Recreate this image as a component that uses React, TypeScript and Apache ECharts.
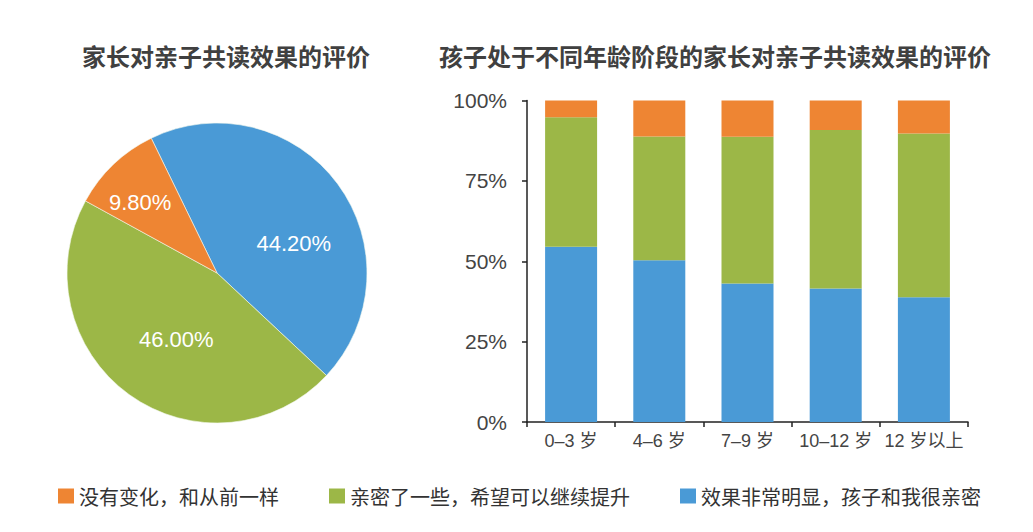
import React, { useEffect, useRef } from "react";
import * as echarts from "echarts";

const seriesNames = ["效果非常明显，孩子和我很亲密", "亲密了一些，希望可以继续提升", "没有变化，和从前一样"];
const legendOrder = ["没有变化，和从前一样", "亲密了一些，希望可以继续提升", "效果非常明显，孩子和我很亲密"];
const pieValues = [44.2, 46.0, 9.8];
const ageGroups = ["0–3 岁", "4–6 岁", "7–9 岁", "10–12 岁", "12 岁以上"];
const veryEffective = [54.5, 50.3, 43.1, 41.5, 38.8];
const someCloser = [40.3, 38.5, 45.6, 49.3, 50.9];
const noChange = [5.2, 11.2, 11.3, 9.2, 10.3];
const yTicks = [0, 25, 50, 75, 100];

const colors = ["#4a9ad6", "#9cb747", "#ee8533"];
const pieLabelShift = [
  [14, 17],
  [5, 3],
  [-23, -14],
];

export default function App() {
  const ref = useRef<HTMLDivElement>(null);
  useEffect(() => {
    if (!ref.current) return;
    const chart = echarts.init(ref.current, null, { renderer: "svg" });
    const numFont = "'Liberation Sans', Arial, 'Noto Sans CJK SC', sans-serif";
    const cjkFont = "'Noto Sans CJK SC', 'Liberation Sans', sans-serif";
    chart.setOption({
      animation: false,
      backgroundColor: "#ffffff",
      title: [
        {
          text: "家长对亲子共读效果的评价",
          left: 221,
          top: 38,
          textAlign: "center",
          textStyle: { fontFamily: cjkFont, fontSize: 24, fontWeight: "bold", color: "#404040" },
        },
        {
          text: "孩子处于不同年龄阶段的家长对亲子共读效果的评价",
          left: 710,
          top: 38,
          textAlign: "center",
          textStyle: { fontFamily: cjkFont, fontSize: 24, fontWeight: "bold", color: "#404040" },
        },
      ],
      legend: {
        data: legendOrder,
        left: 53,
        top: 481,
        icon: "rect",
        itemWidth: 16,
        itemHeight: 15,
        itemGap: 50,
        textStyle: { fontFamily: cjkFont, fontSize: 20, color: "#333" },
      },
      grid: { left: 527, right: 65, top: 100.5, bottom: 110, containLabel: false },
      xAxis: {
        type: "category",
        data: ageGroups,
        axisLine: { lineStyle: { color: "#222", width: 1.5 } },
        axisTick: { show: true, length: 5, lineStyle: { color: "#222", width: 1.5 } },
        axisLabel: { interval: 0, fontFamily: numFont, fontSize: 18, color: "#444", margin: 10 },
      },
      yAxis: {
        type: "value",
        min: yTicks[0],
        max: yTicks[yTicks.length - 1],
        interval: 25,
        splitLine: { show: false },
        axisLine: { show: true, lineStyle: { color: "#222", width: 1.5 } },
        axisTick: { show: true, length: 5, lineStyle: { color: "#222", width: 1.5 } },
        axisLabel: { fontFamily: numFont, fontSize: 21, color: "#444", margin: 20, formatter: "{value}%" },
      },
      series: [
        {
          type: "pie",
          name: "评价",
          center: [217, 273],
          radius: [0, 150],
          startAngle: 116,
          clockwise: true,
          itemStyle: { borderColor: "#f4f8ee", borderWidth: 0.6 },
          label: {
            show: true,
            position: "inside",
            formatter: (p: any) => p.value.toFixed(2) + "%",
            fontFamily: numFont,
            fontSize: 22,
            color: "#ffffff",
          },
          labelLine: { show: false },
          labelLayout: (p: any) => ({ dx: pieLabelShift[p.dataIndex][0], dy: pieLabelShift[p.dataIndex][1] }),
          data: seriesNames.map((n, i) => ({ name: n, value: pieValues[i], itemStyle: { color: colors[i] } })),
        },
        {
          type: "bar",
          name: seriesNames[0],
          stack: "total",
          barWidth: 52,
          itemStyle: { color: colors[0] },
          data: veryEffective,
        },
        {
          type: "bar",
          name: seriesNames[1],
          stack: "total",
          barWidth: 52,
          itemStyle: { color: colors[1] },
          data: someCloser,
        },
        {
          type: "bar",
          name: seriesNames[2],
          stack: "total",
          barWidth: 52,
          itemStyle: { color: colors[2] },
          data: noChange,
        },
      ],
    });
    return () => chart.dispose();
  }, []);
  return <div ref={ref} style={{ position: "absolute", left: 0, top: 0, width: 1033, height: 532 }} />;
}
